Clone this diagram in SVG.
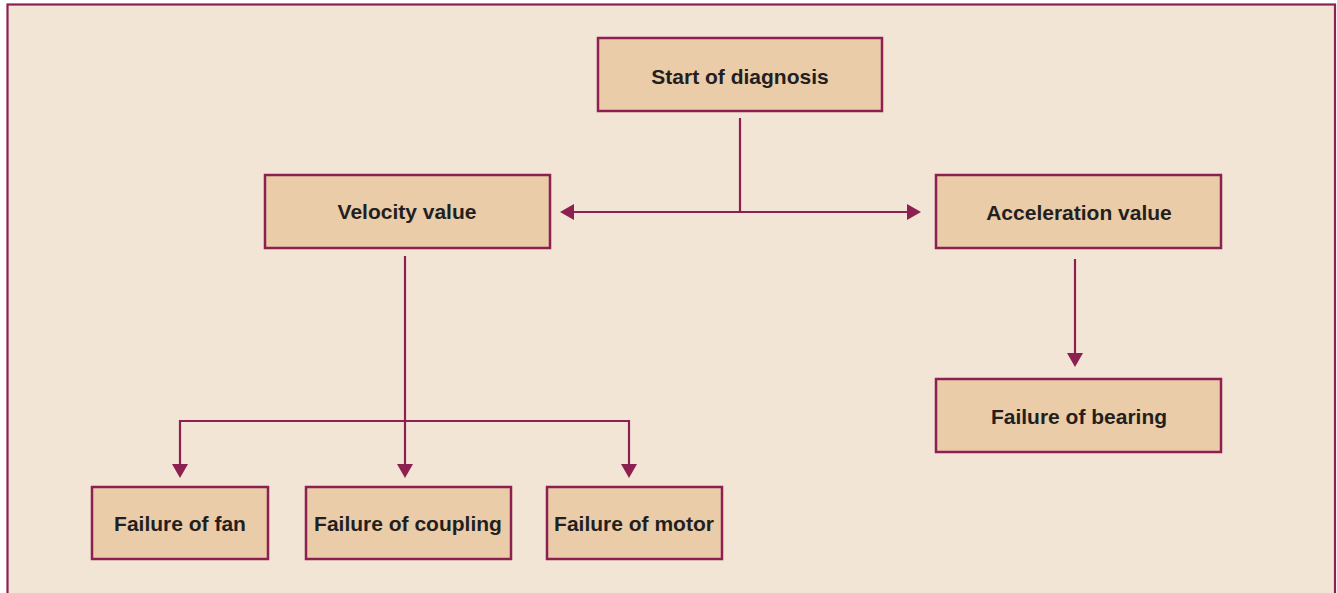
<svg xmlns="http://www.w3.org/2000/svg" width="1337" height="593" viewBox="0 0 1337 593">
<style>
.box{fill:#EACCA9;stroke:#8C2050;stroke-width:2.5}
.lbl{font-family:"Liberation Sans",Arial,sans-serif;font-weight:bold;font-size:21px;fill:#231F20;text-anchor:middle}
.ln{stroke:#8C2050;stroke-width:2.2;fill:none}
.ah{fill:#8C2050}
</style>
<rect x="0" y="0" width="1337" height="593" fill="#FFFFFF"/>
<rect x="7.5" y="4.5" width="1327.5" height="600" fill="#F3E5D5" stroke="#8C2050" stroke-width="2.2"/>
<g id="connectors">
<line class="ln" x1="740" y1="118" x2="740" y2="212"/>
<line class="ln" x1="572" y1="212" x2="909" y2="212"/>
<polygon class="ah" points="560,212 574,204 574,220"/>
<polygon class="ah" points="921,212 907,204 907,220"/>
<line class="ln" x1="1075" y1="259" x2="1075" y2="355"/>
<polygon class="ah" points="1075,367 1067,353 1083,353"/>
<line class="ln" x1="405" y1="256" x2="405" y2="466"/>
<polyline class="ln" points="180,466 180,421 629,421 629,466"/>
<polygon class="ah" points="180,478 172,464 188,464"/>
<polygon class="ah" points="405,478 397,464 413,464"/>
<polygon class="ah" points="629,478 621,464 637,464"/>
</g>
<g id="start"><rect class="box" x="598" y="38" width="284" height="73"/><text class="lbl" x="740" y="84">Start of diagnosis</text></g>
<g id="velocity"><rect class="box" x="265" y="175" width="285" height="73"/><text class="lbl" x="407" y="219">Velocity value</text></g>
<g id="acceleration"><rect class="box" x="936" y="175" width="285" height="73"/><text class="lbl" x="1079" y="220">Acceleration value</text></g>
<g id="bearing"><rect class="box" x="936" y="379" width="285" height="73"/><text class="lbl" x="1079" y="424">Failure of bearing</text></g>
<g id="fan"><rect class="box" x="92" y="487" width="176" height="72"/><text class="lbl" x="180" y="531">Failure of fan</text></g>
<g id="coupling"><rect class="box" x="306" y="487" width="205" height="72"/><text class="lbl" x="408" y="531">Failure of coupling</text></g>
<g id="motor"><rect class="box" x="547" y="487" width="175" height="72"/><text class="lbl" x="634" y="531">Failure of motor</text></g>
</svg>
